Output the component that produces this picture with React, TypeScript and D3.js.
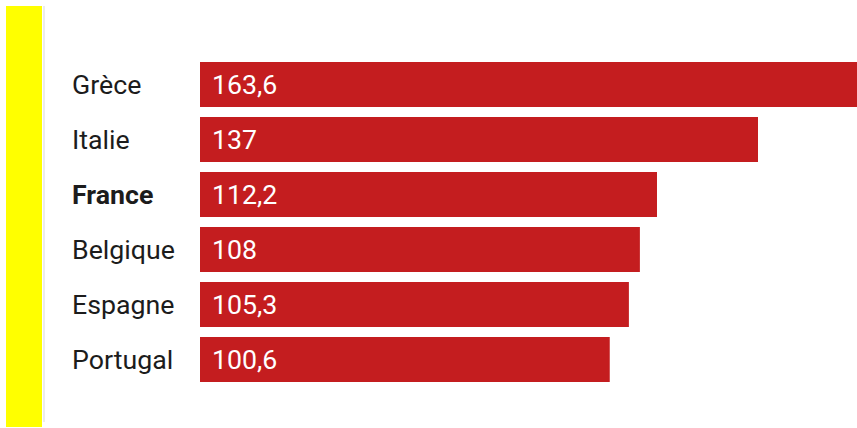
import React from "react";
import * as d3 from "d3";

const countries = ["Grèce", "Italie", "France", "Belgique", "Espagne", "Portugal"];
const values = [163.6, 137, 112.2, 108, 105.3, 100.6];
const valueLabels = ["163,6", "137", "112,2", "108", "105,3", "100,6"];
const highlighted = "France";

const W = 857;
const H = 428;

export default function App() {
  const x = d3.scaleLinear().domain([0, 137]).range([200, 758]);
  const y = d3.scaleBand().domain(countries).range([62, 382]).paddingInner(10 / 55).paddingOuter(0);
  const bw = y.bandwidth();
  const sx = 1.07;
  return (
    <svg width={W} height={H} style={{ position: "absolute", left: 0, top: 0, background: "#fff" }}
      fontFamily="Roboto, 'Noto Sans', sans-serif">
      <rect x={6} y={6} width={36} height={421} fill="#ffff00" />
      <rect x={43} y={6} width={2} height={416} fill="#ececec" />
      {countries.map((c, i) => {
        const yy = y(c)!;
        const ty = yy + bw / 2 + 9;
        return (
          <g key={c}>
            <rect x={x(0)} y={yy} width={x(values[i]) - x(0)} height={bw} fill="#c41d1f" />
            <text transform={`translate(72,${ty}) scale(${sx},1)`} fontSize={25} fill="#1c1c1c"
              fontWeight={c === highlighted ? 700 : 400}>
              {c}
            </text>
            <text transform={`translate(${x(0) + 12},${ty}) scale(${sx},1)`} fontSize={25} fill="#fff">
              {valueLabels[i]}
            </text>
          </g>
        );
      })}
    </svg>
  );
}
